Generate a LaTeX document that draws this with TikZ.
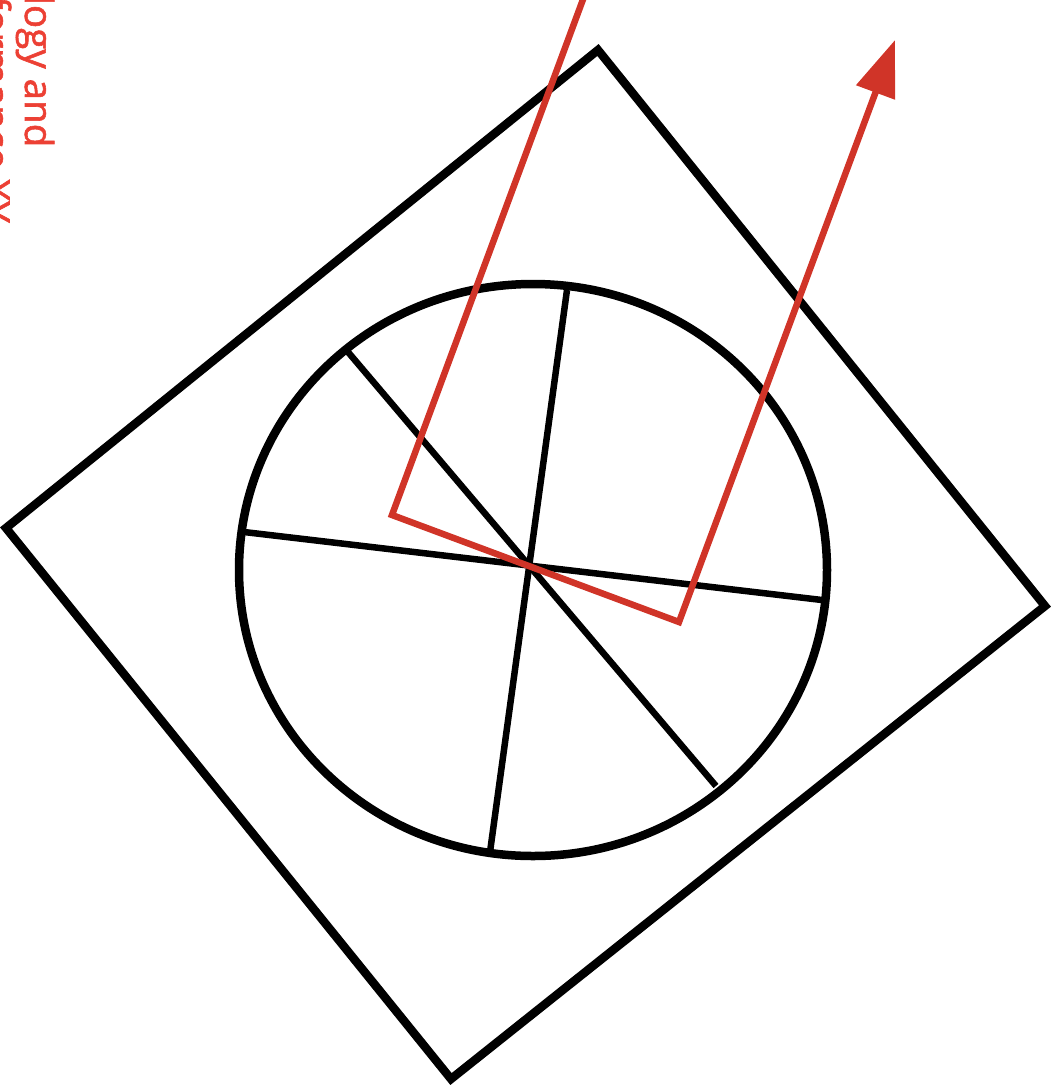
\documentclass[tikz,border=0pt]{standalone}
\usepackage{fontspec}
\setmainfont{Open Sans}
\newfontfamily\lblfont[FakeBold=1.5]{Open Sans}
\usetikzlibrary{arrows.meta}
\definecolor{redline}{RGB}{208,52,40}
\definecolor{redtext}{RGB}{236,64,52}
\begin{document}
\begin{tikzpicture}[x=1pt,y=-1pt,
  blk/.style={draw=black,line width=8.5pt,line join=miter},
  spoke/.style={draw=black,line width=6.5pt},
  ray/.style={draw=redline,line width=6.5pt,line join=miter},
  lbl/.style={text=redtext,font=\lblfont\fontsize{38.5}{44}\selectfont,rotate=-90,anchor=base west,inner sep=0pt}]
\useasboundingbox (0,0) rectangle (1051,1085);
\clip (0,0) rectangle (1051,1085);
% square
\coordinate (s1) at (598,50);
\coordinate (s2) at (1045,606);
\coordinate (s3) at (451,1079);
\coordinate (s4) at (6,528);
\draw[blk] (s1) -- (s2) -- (s3) -- (s4) -- cycle;
% circle
\coordinate (c) at (533,570);
\draw[blk] (c) ellipse [x radius=294, y radius=286];
% spokes
\coordinate (a1) at (244,532);
\coordinate (a2) at (822,600);
\coordinate (b1) at (567,290);
\coordinate (b2) at (490,852);
\coordinate (d1) at (348,352);
\coordinate (d2) at (716,786);
\draw[spoke] (a1) -- (a2);
\draw[spoke] (b1) -- (b2);
\draw[spoke] (d1) -- (d2);
% red path
\coordinate (r0) at (585,-6);
\coordinate (r1) at (392,515);
\coordinate (r2) at (679,622);
\coordinate (r3) at (895,40);
\draw[ray,-{Triangle[length=56pt,width=40pt]}] (r0) -- (r1) -- (r2) -- (r3);
% text
\node[lbl] (t1) at (25,-5) {logy and};
\node[lbl] (t2) at (-18,-4) {formance XY};
\end{tikzpicture}
\end{document}
